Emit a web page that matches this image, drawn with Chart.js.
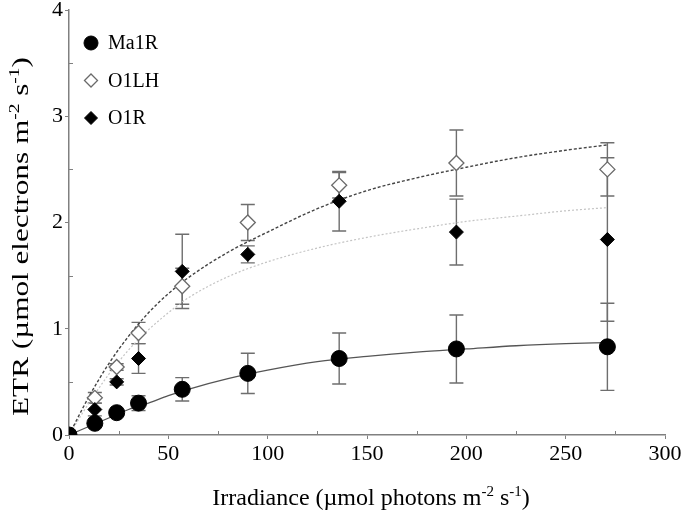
<!DOCTYPE html>
<html>
<head>
<meta charset="utf-8">
<script src="https://cdn.jsdelivr.net/npm/chart.js@4.4.1/dist/chart.umd.min.js"></script>
<style>
  html, body { margin: 0; padding: 0; background: #fff; }
  #wrap { width: 685px; height: 520px; }
</style>
</head>
<body>
<div id="wrap"><canvas id="chart"></canvas></div>
<script>
// Irradiance levels (umol photons m-2 s-1)
const irradiance = [0, 13, 24, 35, 57, 90, 136, 195, 271];

// ETR means and error bars
const ma1r    = [0, 0.11, 0.21, 0.30, 0.43, 0.58, 0.72, 0.81, 0.83];
const ma1rErr = [0, 0.02, 0.02, 0.07, 0.11, 0.19, 0.24, 0.32, 0.41];
const o1lh    = [0, 0.35, 0.64, 0.96, 1.40, 2.00, 2.35, 2.56, 2.50];
const o1lhErr = [0, 0.05, 0.03, 0.10, 0.17, 0.17, 0.12, 0.31, 0.25];
const o1r     = [0, 0.24, 0.50, 0.72, 1.54, 1.70, 2.20, 1.91, 1.84];
const o1rErr  = [0, 0.06, 0.03, 0.14, 0.35, 0.08, 0.28, 0.31, 0.77];

// Fitted curves, values
const fitX    = [0, 10, 20, 30, 40, 50, 60, 80, 100, 125, 150, 175, 200, 225, 250, 271];
const ma1rFit = [0, 0.08, 0.16, 0.24, 0.30, 0.37, 0.43, 0.53, 0.61, 0.69, 0.74, 0.78, 0.81, 0.84, 0.86, 0.87];
const o1lhFit = [0, 0.36, 0.67, 0.93, 1.15, 1.33, 1.48, 1.72, 1.91, 2.13, 2.30, 2.42, 2.52, 2.61, 2.68, 2.73];
const o1rFit  = [0, 0.30, 0.57, 0.80, 0.99, 1.15, 1.29, 1.49, 1.63, 1.76, 1.86, 1.94, 2.01, 2.06, 2.11, 2.14];

// Axis ticks
const xTicks = [0, 50, 100, 150, 200, 250, 300];
const yTicks = [0, 1, 2, 3, 4];

// Axis titles, split into normal / superscript pieces
const xTitle = [['Irradiance (µmol photons m', 0], ['-2', 1], [' s', 0], ['-1', 1], [')', 0]];
const yTitle = [['ETR (µmol electrons m', 0], ['-2', 1], [' s', 0], ['-1', 1], [')', 0]];

const FONT = "'Liberation Serif', 'Times New Roman', serif";

function pts(xs, ys) {
    return xs.map((x, i) => ({ x: x, y: ys[i] }));
}

// draws a title with real superscripts, centred on (0,0) of the current transform
function drawRich(ctx, parts, size, stretch) {
    const supSize = Math.round(size * 0.62);
    let total = 0;
    parts.forEach(p => {
        ctx.font = (p[1] ? supSize : size) + 'px ' + FONT;
        total += ctx.measureText(p[0]).width;
    });
    ctx.scale(stretch, 1);
    let x = -total / 2;
    ctx.textBaseline = 'alphabetic';
    ctx.textAlign = 'left';
    parts.forEach(p => {
        ctx.font = (p[1] ? supSize : size) + 'px ' + FONT;
        ctx.fillText(p[0], x, p[1] ? -size * 0.38 : 0);
        x += ctx.measureText(p[0]).width;
    });
}

const axisTitles = {
    id: 'axisTitles',
    afterDraw(chart) {
        const ctx = chart.ctx;
        const area = chart.chartArea;
        ctx.save();
        ctx.fillStyle = '#000';
        ctx.translate((area.left + area.right) / 2 + 4, 505);
        drawRich(ctx, xTitle, 24, 1.0);
        ctx.restore();

        ctx.save();
        ctx.fillStyle = '#000';
        ctx.translate(28, (area.top + area.bottom) / 2 + 14);
        ctx.rotate(-Math.PI / 2);
        drawRich(ctx, yTitle, 24, 1.3);
        ctx.restore();
    }
};

// Error bars drawn beneath the markers
const errorBars = {
    id: 'errorBars',
    beforeDatasetsDraw(chart) {
        const ctx = chart.ctx;
        const xs = chart.scales.x, ys = chart.scales.y;
        ctx.save();
        ctx.strokeStyle = '#6e6e6e';
        ctx.lineWidth = 1.4;
        chart.data.datasets.forEach(ds => {
            if (!ds.err) return;
            ds.data.forEach((p, i) => {
                const e = ds.err[i];
                if (!e) return;
                const px = xs.getPixelForValue(p.x);
                const top = ys.getPixelForValue(p.y + e);
                const bot = ys.getPixelForValue(p.y - e);
                ctx.beginPath();
                ctx.moveTo(px, top); ctx.lineTo(px, bot);
                ctx.moveTo(px - 7, top); ctx.lineTo(px + 7, top);
                ctx.moveTo(px - 7, bot); ctx.lineTo(px + 7, bot);
                ctx.stroke();
            });
        });
        ctx.restore();
    }
};

// Inward minor ticks
const minorTicks = {
    id: 'minorTicks',
    afterDraw(chart) {
        const ctx = chart.ctx;
        const xs = chart.scales.x, ys = chart.scales.y;
        const area = chart.chartArea;
        ctx.save();
        ctx.strokeStyle = '#808080';
        ctx.lineWidth = 1;
        ctx.beginPath();
        for (let v = 25; v < 300; v += 50) {
            const px = Math.round(xs.getPixelForValue(v)) + 0.5;
            ctx.moveTo(px, area.bottom); ctx.lineTo(px, area.bottom - 4);
        }
        for (let v = 0.5; v < 4; v += 1) {
            const py = Math.round(ys.getPixelForValue(v)) + 0.5;
            ctx.moveTo(area.left, py); ctx.lineTo(area.left + 4, py);
        }
        ctx.stroke();
        ctx.restore();
    }
};

// Legend inside the plot, top left
const innerLegend = {
    id: 'innerLegend',
    afterDraw(chart) {
        const ctx = chart.ctx;
        const area = chart.chartArea;
        const items = chart.data.datasets.filter(ds => ds.inLegend);
        ctx.save();
        ctx.font = '20px ' + FONT;
        ctx.textBaseline = 'middle';
        items.sort((a, b) => a.legendRank - b.legendRank).forEach((ds, i) => {
            const cy = area.top + 33 + i * 37.5;
            const cx = area.left + 22;
            ctx.fillStyle = ds.backgroundColor;
            ctx.strokeStyle = ds.borderColor;
            ctx.lineWidth = ds.borderWidth;
            Chart.helpers.drawPoint(ctx, {
                pointStyle: ds.pointStyle,
                radius: ds.legendRadius,
                borderWidth: ds.borderWidth
            }, cx, cy);
            ctx.fillStyle = '#000';
            ctx.fillText(ds.label, area.left + 39, cy + 1);
        });
        ctx.restore();
    }
};

const ctx = document.getElementById('chart').getContext('2d');
new Chart(ctx, {
    type: 'scatter',
    data: {
        datasets: [
            {
                label: 'Ma1R', data: pts(irradiance, ma1r), err: ma1rErr,
                pointStyle: 'circle', pointRadius: 8, pointHoverRadius: 8,
                backgroundColor: '#000', borderColor: '#000', borderWidth: 1,
                showLine: false, order: 0, inLegend: true, legendRank: 0, legendRadius: 7
            },
            {
                label: 'O1R', data: pts(irradiance, o1r), err: o1rErr,
                pointStyle: 'rectRot', pointRadius: 7, pointHoverRadius: 7,
                backgroundColor: '#000', borderColor: '#000', borderWidth: 1,
                showLine: false, order: 1, inLegend: true, legendRank: 2, legendRadius: 6.5
            },
            {
                label: 'O1LH', data: pts(irradiance, o1lh), err: o1lhErr,
                pointStyle: 'rectRot', pointRadius: 7.5, pointHoverRadius: 7.5,
                backgroundColor: '#fff', borderColor: '#6a6a6a', borderWidth: 1.3,
                showLine: false, order: 2, inLegend: true, legendRank: 1, legendRadius: 6.5
            },
            {
                label: 'Ma1R fit', data: pts(fitX, ma1rFit), showLine: true,
                borderColor: '#555', borderWidth: 1.3, pointRadius: 0,
                cubicInterpolationMode: 'monotone', order: 10
            },
            {
                label: 'O1LH fit', data: pts(fitX, o1lhFit), showLine: true,
                borderColor: '#444', borderWidth: 1.4, borderDash: [3, 2], pointRadius: 0,
                cubicInterpolationMode: 'monotone', order: 10
            },
            {
                label: 'O1R fit', data: pts(fitX, o1rFit), showLine: true,
                borderColor: '#c4c4c4', borderWidth: 1.2, borderDash: [2, 2], pointRadius: 0,
                cubicInterpolationMode: 'monotone', order: 10
            }
        ]
    },
    options: {
        responsive: true,
        maintainAspectRatio: false,
        animation: false,
        layout: { padding: { top: 10, right: 20, left: 0, bottom: 0 } },
        plugins: { legend: { display: false }, tooltip: { enabled: false } },
        scales: {
            x: {
                type: 'linear', min: 0, max: 300,
                afterBuildTicks: s => { s.ticks = xTicks.map(v => ({ value: v })); },
                afterFit: s => { s.height = 85; s.paddingLeft = 0; s.paddingRight = 0; },
                border: { color: '#808080', width: 1.5 },
                grid: { drawOnChartArea: false, drawTicks: true, tickLength: 4, color: '#808080' },
                ticks: { color: '#000', padding: 2, maxRotation: 0, font: { family: FONT, size: 22 } },
                title: { display: false }
            },
            y: {
                type: 'linear', min: 0, max: 4,
                afterBuildTicks: s => { s.ticks = yTicks.map(v => ({ value: v })); },
                afterFit: s => { s.width = 69; s.paddingTop = 0; s.paddingBottom = 0; },
                border: { color: '#808080', width: 1.5 },
                grid: { drawOnChartArea: false, drawTicks: true, tickLength: 4, color: '#808080' },
                ticks: { color: '#000', padding: 2, font: { family: FONT, size: 22 } },
                title: { display: false }
            }
        }
    },
    plugins: [errorBars, minorTicks, innerLegend, axisTitles]
});
</script>
</body>
</html>
